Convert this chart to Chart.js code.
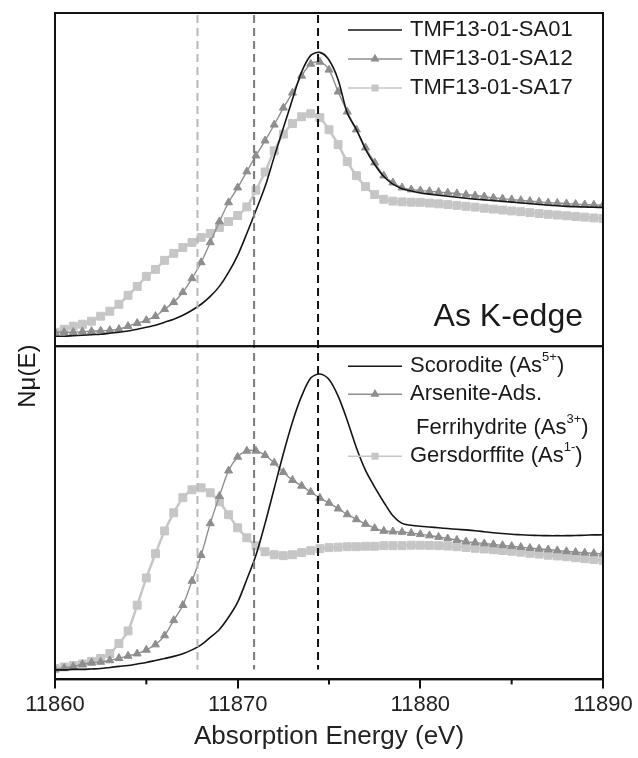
<!DOCTYPE html>
<html>
<head>
<meta charset="utf-8">
<title>As K-edge XANES</title>
<script src="https://cdn.jsdelivr.net/npm/chart.js@4.4.1/dist/chart.umd.min.js"></script>
<style>
  html, body { margin: 0; padding: 0; background: #fff; }
  #wrap { width: 638px; height: 758px; }
</style>
</head>
<body>
<div id="wrap"><canvas id="xanes"></canvas></div>
<script>
// energy grid (eV)
var energy = [
  11860, 11860.5, 11861, 11861.5, 11862, 11862.5, 11863, 11863.5, 11864, 11864.5,
  11865, 11865.5, 11866, 11866.5, 11867, 11867.5, 11868, 11868.5, 11869, 11869.5,
  11870, 11870.5, 11871, 11871.5, 11872, 11872.5, 11873, 11873.5, 11874, 11874.5,
  11875, 11875.5, 11876, 11876.5, 11877, 11877.5, 11878, 11878.5, 11879, 11879.5,
  11880, 11880.5, 11881, 11881.5, 11882, 11882.5, 11883, 11883.5, 11884, 11884.5,
  11885, 11885.5, 11886, 11886.5, 11887, 11887.5, 11888, 11888.5, 11889, 11889.5,
  11890
];

// samples (top panel)
var sa01 = [
  0.066, 0.066, 0.069, 0.072, 0.076, 0.079, 0.086, 0.092, 0.100, 0.112,
  0.125, 0.138, 0.158, 0.178, 0.204, 0.237, 0.277, 0.329, 0.395, 0.487,
  0.600, 0.744, 0.896, 1.054, 1.25, 1.44, 1.63, 1.81, 1.92, 1.94,
  1.89, 1.76, 1.54, 1.43, 1.30, 1.20, 1.12, 1.07, 1.04, 1.025,
  1.012, 1.004, 0.997, 0.990, 0.983, 0.977, 0.971, 0.966, 0.961, 0.956,
  0.951, 0.946, 0.941, 0.936, 0.931, 0.927, 0.923, 0.921, 0.919, 0.917,
  0.916
];
var sa12 = [
  0.092, 0.092, 0.092, 0.096, 0.099, 0.102, 0.105, 0.112, 0.132, 0.152,
  0.171, 0.198, 0.244, 0.290, 0.356, 0.448, 0.553, 0.685, 0.823, 0.949,
  1.047, 1.153, 1.258, 1.357, 1.462, 1.574, 1.673, 1.785, 1.864, 1.877,
  1.825, 1.68, 1.548, 1.43, 1.311, 1.212, 1.126, 1.08, 1.047, 1.034,
  1.028, 1.023, 1.018, 1.013, 1.008, 1.001, 0.995, 0.988, 0.980, 0.974,
  0.968, 0.963, 0.958, 0.953, 0.948, 0.945, 0.942, 0.938, 0.935, 0.933,
  0.932
];
var sa17 = [
  0.092, 0.112, 0.132, 0.145, 0.165, 0.198, 0.231, 0.277, 0.336, 0.395,
  0.461, 0.507, 0.567, 0.613, 0.652, 0.685, 0.718, 0.744, 0.784, 0.823,
  0.863, 0.92, 1.03, 1.15, 1.29, 1.40, 1.47, 1.515, 1.535, 1.509,
  1.429, 1.331, 1.219, 1.126, 1.054, 1.001, 0.970, 0.958, 0.953, 0.951,
  0.950, 0.945, 0.940, 0.935, 0.930, 0.924, 0.918, 0.911, 0.905, 0.899,
  0.893, 0.888, 0.882, 0.876, 0.871, 0.866, 0.861, 0.856, 0.852, 0.847,
  0.843
];

// reference standards (bottom panel)
var scorodite = [
  0.063, 0.063, 0.066, 0.066, 0.069, 0.072, 0.079, 0.086, 0.092, 0.102,
  0.112, 0.125, 0.138, 0.152, 0.170, 0.195, 0.228, 0.277, 0.330, 0.410,
  0.51, 0.66, 0.82, 1.03, 1.26, 1.49, 1.70, 1.87, 1.99, 2.016,
  1.98, 1.87, 1.71, 1.53, 1.38, 1.27, 1.17, 1.08, 1.03, 1.018,
  1.011, 1.006, 1.001, 0.996, 0.991, 0.987, 0.982, 0.975, 0.968, 0.963,
  0.958, 0.955, 0.952, 0.950, 0.949, 0.949, 0.949, 0.950, 0.952, 0.954,
  0.955
];
var arsenite = [
  0.066, 0.075, 0.085, 0.100, 0.110, 0.115, 0.125, 0.140, 0.155, 0.170,
  0.195, 0.230, 0.290, 0.390, 0.490, 0.650, 0.820, 1.030, 1.210, 1.378,
  1.469, 1.509, 1.509, 1.480, 1.430, 1.368, 1.316, 1.278, 1.237, 1.198,
  1.165, 1.127, 1.089, 1.056, 1.026, 0.998, 0.980, 0.976, 0.973, 0.966,
  0.958, 0.950, 0.940, 0.930, 0.920, 0.910, 0.903, 0.897, 0.891, 0.885,
  0.879, 0.873, 0.867, 0.862, 0.857, 0.851, 0.845, 0.840, 0.836, 0.832,
  0.830
];
var gersdorffite = [
  0.072, 0.082, 0.092, 0.102, 0.119, 0.138, 0.171, 0.237, 0.320, 0.490,
  0.670, 0.830, 0.980, 1.100, 1.200, 1.252, 1.265, 1.232, 1.173, 1.087,
  1.001, 0.935, 0.883, 0.843, 0.823, 0.817, 0.823, 0.837, 0.850, 0.863,
  0.870, 0.873, 0.876, 0.876, 0.879, 0.879, 0.883, 0.883, 0.883, 0.886,
  0.886, 0.885, 0.883, 0.880, 0.876, 0.871, 0.866, 0.861, 0.856, 0.851,
  0.846, 0.840, 0.833, 0.827, 0.820, 0.815, 0.810, 0.803, 0.797, 0.792,
  0.787
];

var topLabels = ['TMF13-01-SA01', 'TMF13-01-SA12', 'TMF13-01-SA17'];
var bottomLabels = [
  ['Scorodite (As^{5+})'],
  ['Arsenite-Ads.', ' Ferrihydrite (As^{3+})'],
  ['Gersdorffite (As^{1-})']
];
var xTickLabels = [11860, 11870, 11880, 11890];
// white-line positions of As(1-), As(3+), As(5+)
var edgeEnergies = [11867.8, 11870.9, 11874.4];
var edgeColors = ['#b8b8b8', '#7a7a7a', '#111111'];

var FONT = "'Liberation Sans', Arial, Helvetica, sans-serif";
Chart.defaults.font.family = FONT;
Chart.defaults.color = '#222';

function pts(arr) {
  return energy.map(function (e, i) { return { x: e, y: arr[i] }; });
}

function series(label, arr, axis, style, legendLines) {
  var base = {
    label: label,
    data: pts(arr),
    yAxisID: axis,
    legendLines: legendLines,
    fill: false,
    tension: 0.3
  };
  return Object.assign(base, style);
}

var blackLine = { borderColor: '#151515', borderWidth: 1.6, pointRadius: 0, pointStyle: false };
var triLine = {
  borderColor: '#8e8e8e', borderWidth: 1.4, pointStyle: 'triangle', pointRadius: 4.6,
  pointBackgroundColor: '#8e8e8e', pointBorderColor: '#8e8e8e', pointBorderWidth: 1
};
var sqLine = {
  borderColor: '#c6c6c6', borderWidth: 2.5, pointStyle: 'rect', pointRadius: 5.6,
  pointBackgroundColor: '#c6c6c6', pointBorderColor: '#c6c6c6', pointBorderWidth: 1
};

var datasets = [
  series(topLabels[0], sa01, 'yTop', blackLine, [topLabels[0]]),
  series(topLabels[1], sa12, 'yTop', triLine, [topLabels[1]]),
  series(topLabels[2], sa17, 'yTop', sqLine, [topLabels[2]]),
  series('Scorodite', scorodite, 'yBot', blackLine, bottomLabels[0]),
  series('Arsenite-Ads. Ferrihydrite', arsenite, 'yBot', triLine, bottomLabels[1]),
  series('Gersdorffite', gersdorffite, 'yBot', sqLine, bottomLabels[2])
];

// text with ^{...} superscripts
function drawRich(ctx, text, x, y, size) {
  var parts = text.split(/(\^\{[^}]*\})/);
  var cx = x;
  parts.forEach(function (p) {
    if (!p) return;
    if (p.indexOf('^{') === 0) {
      var s = p.slice(2, -1);
      ctx.font = Math.round(size * 0.6) + 'px ' + FONT;
      ctx.fillText(s, cx, y - size * 0.4);
      cx += ctx.measureText(s).width;
    } else {
      ctx.font = size + 'px ' + FONT;
      ctx.fillText(p, cx, y);
      cx += ctx.measureText(p).width;
    }
  });
}

function drawPanelLegend(chart, axisId, firstRow, rowStep, wrapStep) {
  var ctx = chart.ctx;
  var area = chart.chartArea;
  var scale = chart.scales[axisId];
  var textX = area.right - 193;
  var y = scale.top + firstRow;
  chart.data.datasets.forEach(function (ds) {
    if (ds.yAxisID !== axisId) return;
    ctx.save();
    ctx.strokeStyle = ds.borderColor;
    ctx.lineWidth = Math.min(ds.borderWidth, 1.6);
    ctx.beginPath();
    ctx.moveTo(textX - 62, y);
    ctx.lineTo(textX - 8, y);
    ctx.stroke();
    if (ds.pointStyle) {
      ctx.fillStyle = ds.pointBackgroundColor;
      ctx.strokeStyle = ds.pointBorderColor;
      Chart.helpers.drawPoint(ctx, { pointStyle: ds.pointStyle, radius: 3.8, rotation: 0, borderWidth: 1 }, textX - 35, y);
    }
    ctx.fillStyle = '#1a1a1a';
    ctx.textBaseline = 'middle';
    ctx.textAlign = 'left';
    ds.legendLines.forEach(function (line, j) {
      if (j > 0) y += wrapStep;
      drawRich(ctx, line, textX, y, 22);
    });
    ctx.restore();
    y += rowStep;
  });
}

var panelDecor = {
  id: 'panelDecor',
  afterDatasetsDraw: function (chart) {
    var ctx = chart.ctx;
    var area = chart.chartArea;
    var x = chart.scales.x;
    ctx.save();
    ctx.lineWidth = 2;
    ctx.setLineDash([8, 5]);
    edgeEnergies.forEach(function (e, i) {
      var px = x.getPixelForValue(e);
      ctx.strokeStyle = edgeColors[i];
      ctx.beginPath();
      ctx.moveTo(px, area.top + 2);
      ctx.lineTo(px, area.bottom - 10);
      ctx.stroke();
    });
    ctx.restore();
  },
  afterDraw: function (chart) {
    var ctx = chart.ctx;
    var area = chart.chartArea;
    var x = chart.scales.x;
    ctx.save();
    ctx.strokeStyle = '#111';
    ctx.lineWidth = 2;
    ['yTop', 'yBot'].forEach(function (id) {
      var s = chart.scales[id];
      ctx.strokeRect(area.left, s.top, area.right - area.left, s.bottom - s.top);
    });
    // short minor ticks between the labelled ones
    x.ticks.forEach(function (t) {
      if (xTickLabels.indexOf(t.value) >= 0) return;
      var px = x.getPixelForValue(t.value);
      ctx.beginPath();
      ctx.moveTo(px, area.bottom);
      ctx.lineTo(px, area.bottom + 5);
      ctx.stroke();
    });
    ctx.restore();

    drawPanelLegend(chart, 'yTop', 17, 29, 0);
    drawPanelLegend(chart, 'yBot', 20, 28, 34);

    var top = chart.scales.yTop;
    ctx.save();
    ctx.fillStyle = '#1a1a1a';
    ctx.font = '32px ' + FONT;
    ctx.textAlign = 'right';
    ctx.textBaseline = 'alphabetic';
    ctx.fillText('As K-edge', area.right - 20, top.bottom - 20);
    ctx.restore();

    ctx.save();
    ctx.fillStyle = '#1a1a1a';
    ctx.font = '24px ' + FONT;
    ctx.translate(28, (area.top + area.bottom) / 2 + 30);
    ctx.rotate(-Math.PI / 2);
    ctx.textAlign = 'center';
    ctx.textBaseline = 'middle';
    ctx.fillText('N\u03bc(E)', 0, 0);
    ctx.restore();
  }
};

var ctx = document.getElementById('xanes');
var chart = new Chart(ctx, {
  type: 'line',
  data: { datasets: datasets },
  options: {
    responsive: true,
    maintainAspectRatio: false,
    animation: false,
    layout: { padding: { left: 47, right: 35, top: 13, bottom: 0 } },
    plugins: {
      legend: { display: false },
      tooltip: { enabled: false }
    },
    scales: {
      x: {
        type: 'linear',
        min: 11860,
        max: 11890,
        ticks: {
          stepSize: 5,
          autoSkip: false,
          maxRotation: 0,
          color: '#222',
          font: { size: 22 },
          padding: 3,
          callback: function (v) { return xTickLabels.indexOf(v) >= 0 ? String(v) : ''; }
        },
        grid: {
          display: true, drawOnChartArea: false, drawTicks: true, tickLength: 9, lineWidth: 2,
          tickColor: function (c) {
            return c.tick && xTickLabels.indexOf(c.tick.value) >= 0 ? '#111' : 'rgba(0,0,0,0)';
          }
        },
        border: { display: true, color: '#111', width: 2 },
        title: { display: true, text: 'Absorption Energy (eV)', color: '#222', font: { size: 26 }, padding: { top: 0, bottom: 6 } }
      },
      yBot: {
        type: 'linear', position: 'left', stack: 'panels', stackWeight: 1,
        min: 0, max: 2.2,
        ticks: { display: false }, grid: { display: false }, border: { display: false }
      },
      yTop: {
        type: 'linear', position: 'left', stack: 'panels', stackWeight: 1,
        min: 0, max: 2.2,
        ticks: { display: false }, grid: { display: false }, border: { display: false }
      }
    }
  },
  plugins: [panelDecor]
});
</script>
</body>
</html>
